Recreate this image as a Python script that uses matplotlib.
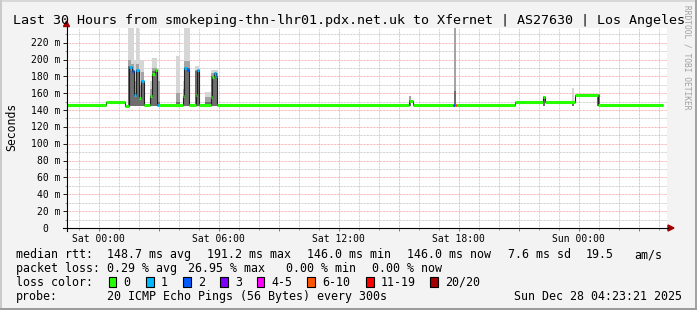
import numpy as np
import matplotlib.pyplot as plt
from matplotlib.patches import Rectangle, Polygon
from matplotlib.lines import Line2D
from matplotlib.transforms import Affine2D, ScaledTranslation, blended_transform_factory

W, H = 697, 310
MONO = 'DejaVu Sans Mono'

# time axis: hours from Sat 00:00 (graph ends Sun 04:23:21)
median_edges = [-1.61, 0.38, 1.33, 1.49, 1.66, 1.74, 1.88, 1.99, 2.13, 2.28,
                2.58, 2.68, 2.83, 2.93, 3.01, 4.21, 4.27, 4.41, 4.53, 4.84,
                4.89, 5.02, 5.60, 5.67, 5.77, 5.84, 5.93, 15.50, 15.70, 17.72,
                17.81, 17.89, 20.81, 22.21, 22.32, 23.80, 24.95, 28.20]
# median rtt (ms) and lost pings (of 20) for each step
median_ms = [146, 150, 145, 191, 186, 158, 187, 154, 174, 146,
             157, 183, 187, 146, 146, 157, 190, 187, 146, 158,
             187, 146, 155, 179, 184, 181, 146, 151, 146, 146,
             146, 146, 150, 156, 150, 158, 146]
median_loss = [0, 0, 0, 1, 2, 1, 1, 0, 1, 0,
               0, 0, 0, 1, 0, 0, 1, 2, 0, 0,
               1, 0, 0, 0, 1, 1, 0, 0, 0, 2,
               6, 0, 0, 0, 0, 0, 0]

# smoke (ping spread) per period, ms
smoke_start = [1.45, 1.63, 1.78, 1.88, 2.00, 2.13, 2.58, 2.68, 2.93, 3.87,
               4.20, 4.27, 4.83, 5.32, 5.59, 15.50, 17.76, 22.21, 23.65, 24.93]
smoke_end = [1.63, 1.78, 1.88, 2.00, 2.13, 2.28, 2.68, 2.93, 3.05, 4.07,
             4.27, 4.54, 5.02, 5.59, 5.94, 15.60, 17.86, 22.32, 23.78, 25.08]
smoke_max = [238, 238, 200, 238, 200, 200, 175, 202, 190, 204,
             175, 238, 192, 162, 188, 157, 237, 157, 166, 159]
smoke_upper = [200, 195, 175, 195, 170, 185, 165, 190, 175, 160,
               165, 198, 188, 155, 184, 157, 237, 157, 150, 159]
smoke_inner = [192, 186, 160, 187, 156, 175, 158, 186, 150, 150,
               157, 190, 186, 150, 180, 152, 163, 156, 147, 158]
smoke_min = 145

y_ticks = [0, 20, 40, 60, 80, 100, 120, 140, 160, 180, 200, 220]
y_labels = ['0', '20 m', '40 m', '60 m', '80 m', '100 m', '120 m',
            '140 m', '160 m', '180 m', '200 m', '220 m']
x_ticks = [0, 6, 12, 18, 24]
x_labels = ['Sat 00:00', 'Sat 06:00', 'Sat 12:00', 'Sat 18:00', 'Sun 00:00']

loss_upper = [0, 1, 2, 3, 5, 10, 19, 20]
loss_names = ['0', '1', '2', '3', '4-5', '6-10', '11-19', '20/20']
loss_colors = ['#26ff00', '#00b8ff', '#0059ff', '#7e00ff',
               '#ff00ff', '#ff5500', '#ff0000', '#a10000']

title = 'Last 30 Hours from smokeping-thn-lhr01.pdx.net.uk to Xfernet | AS27630 | Los Angeles'
rtt_stats = ['median rtt:', '148.7 ms avg', '191.2 ms max', '146.0 ms min',
             '146.0 ms now', '7.6 ms sd', '19.5', 'am/s']
loss_stats = ['packet loss:', '0.29 % avg', '26.95 % max', '0.00 % min', '0.00 % now']
probe_info = ['probe:', '20 ICMP Echo Pings (56 Bytes) every 300s', 'Sun Dec 28 04:23:21 2025']

fig = plt.figure(figsize=(W / 100, H / 100), dpi=100, facecolor='#f3f3f3')
px = Affine2D().scale(1 / W, -1 / H).translate(0, 1) + fig.transFigure

ax = fig.add_axes([66.5 / W, (H - 228) / H, 600.5 / W, 200 / H])
ax.set_facecolor('white')
ax.set_xlim(-1.61, 28.415)
ax.set_ylim(0, 237.4)
for s in ax.spines.values():
    s.set_visible(False)

ax.set_xticks(np.arange(0, 28.5, 3))
ax.set_xticks(np.arange(-1, 28.5, 1), minor=True)
ax.set_yticks(np.arange(0, 237, 20))
ax.set_yticks(np.arange(0, 237, 10), minor=True)
ax.tick_params(which='both', labelbottom=False, labelleft=False, width=0.72)
ax.tick_params(axis='y', which='major', direction='out', length=3, color='#202020')
ax.tick_params(axis='y', which='minor', direction='out', length=1.5, color='#909090')
ax.tick_params(axis='x', which='major', direction='out', length=2.5, color='#ff5050')
ax.tick_params(axis='x', which='minor', direction='out', length=1.5, color='#909090')

dots = (0, (0.72, 0.72))
ax.grid(which='major', color='#f28a8a', lw=0.72, linestyle=dots, alpha=0.8)
ax.grid(which='minor', color='#b4b4b4', lw=0.72, linestyle=dots, alpha=0.8)
ax.set_axisbelow(True)

# smoke
widths = np.subtract(smoke_end, smoke_start)
ax.bar(smoke_start, np.subtract(smoke_max, smoke_min), width=widths, bottom=smoke_min,
       align='edge', color='#d6d6d6', lw=0, zorder=2)
ax.bar(smoke_start, np.subtract(smoke_upper, smoke_min), width=widths, bottom=smoke_min,
       align='edge', color='#a4a4a4', lw=0, zorder=2)
ax.bar(smoke_start, np.subtract(smoke_inner, smoke_min), width=widths, bottom=smoke_min,
       align='edge', color='#6e6e6e', lw=0, zorder=2)

# median line + loss coloured bands
ax.stairs(median_ms, median_edges, baseline=None, color='#202020', lw=0.8, zorder=3)
seg_colors = [loss_colors[np.searchsorted(loss_upper, l)] for l in median_loss]
ax.hlines(median_ms, median_edges[:-1], median_edges[1:], colors=seg_colors,
          lw=2.2, capstyle='butt', zorder=4)

# axis lines with arrows
fig.add_artist(Line2D([66.5, 66.5], [231, 26], transform=px, color='black', lw=0.8))
fig.add_artist(Line2D([62.5, 668], [228, 228], transform=px, color='black', lw=0.8))
fig.add_artist(Polygon([(63.5, 26.5), (69.5, 26.5), (66.5, 21)], closed=True,
                       transform=px, color='#a00000'))
fig.add_artist(Polygon([(668, 225), (668, 231), (674, 228)], closed=True,
                       transform=px, color='#a00000'))

# tick labels
ytr = blended_transform_factory(px, ax.transData) + ScaledTranslation(0, -3.5 / 100, fig.dpi_scale_trans)
for v, lab in zip(y_ticks, y_labels):
    xr = 60.5 if lab.endswith('m') else 48.5
    ax.text(xr, v, lab, transform=ytr, ha='right', va='baseline',
            family=MONO, size=7, color='black')
xtr = blended_transform_factory(ax.transData, px)
for v, lab in zip(x_ticks, x_labels):
    ax.text(v, 241.5, lab, transform=xtr, ha='center', va='baseline',
            family=MONO, size=7, color='black')

# titles
fig.text(12.7, 24, title, transform=px, family=MONO, size=9.6, va='baseline')
fig.text(15, 127, 'Seconds', transform=px, family=MONO, size=8.3, rotation=90,
         rotation_mode='anchor', ha='center', va='baseline')
fig.text(684.5, 5, 'RRDTOOL / TOBI OETIKER', transform=px, family=MONO, size=5.7,
         rotation=270, rotation_mode='anchor', ha='left', va='baseline', color='#a0a0a0')

# legend
lsize = 8.4
for x, s in zip([16, 107.3, 207.3, 307.3, 407, 507.7, 586, 634], rtt_stats):
    fig.text(x, 258, s, transform=px, family=MONO, size=lsize, va='baseline')
for x, s in zip([16, 107.3, 188.3, 286, 372], loss_stats):
    fig.text(x, 272, s, transform=px, family=MONO, size=lsize, va='baseline')
fig.text(16, 285.7, 'loss color:', transform=px, family=MONO, size=lsize, va='baseline')
box_x = [108.7, 146, 183.3, 220, 256.7, 307.3, 366, 430.3]
for bx, name, col in zip(box_x, loss_names, loss_colors):
    fig.add_artist(Rectangle((bx, 276.5), 7.5, 10, transform=px, facecolor=col,
                             edgecolor='black', lw=0.8))
    fig.text(bx + 14.8, 285.7, name, transform=px, family=MONO, size=lsize, va='baseline')
for x, s in zip([16, 107.3, 513.7], probe_info):
    fig.text(x, 300, s, transform=px, family=MONO, size=lsize, va='baseline')

# 3d frame
fig.add_artist(Rectangle((0, 0), W, 2, transform=px, color='#d8d8d8', lw=0))
fig.add_artist(Rectangle((0, 0), 2, H, transform=px, color='#cacaca', lw=0))
fig.add_artist(Rectangle((W - 2, 0), 2, H, transform=px, color='#a2a2a2', lw=0))
fig.add_artist(Rectangle((0, H - 2.3), W, 2.3, transform=px, color='#9c9c9c', lw=0))

fig.savefig('out.png', dpi=100, facecolor=fig.get_facecolor())
